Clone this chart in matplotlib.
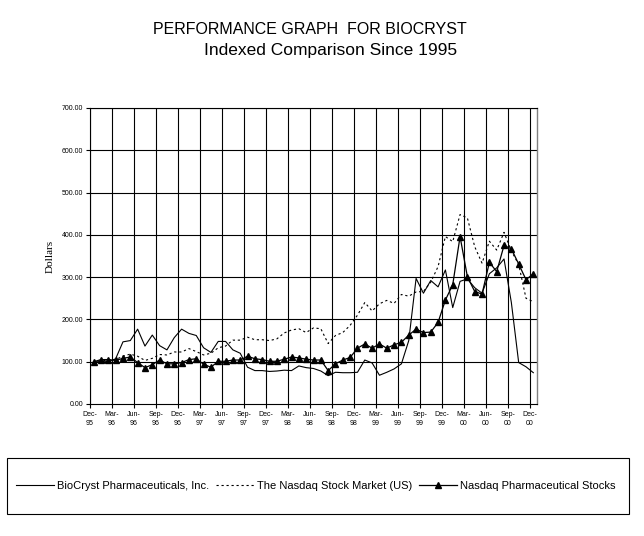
import matplotlib
matplotlib.use("Agg")
import matplotlib.pyplot as plt
from matplotlib.patches import Rectangle
import numpy as np

# DATA (indexed, Dec-95 = 100, monthly)
months = ["Dec", "Mar", "Jun", "Sep"]
years = ["95", "96", "96", "96", "96", "97", "97", "97", "97", "98", "98",
         "98", "98", "99", "99", "99", "99", "00", "00", "00", "00"]
tick_labels = [f"{months[k % 4]}-\n{years[k]}" for k in range(21)]

biocryst = [100, 100, 100, 107, 147, 150, 177, 137, 163, 138,
            128, 157, 177, 167, 162, 133, 122, 148, 148, 128,
            120, 87, 79, 79, 77, 78, 80, 79, 90, 86,
            84, 78, 67, 75, 74, 74, 75, 104, 97, 68,
            75, 83, 95, 150, 297, 262, 292, 277, 317, 228,
            290, 296, 275, 262, 308, 322, 343, 240, 98, 88, 74]

nasdaq = [100, 101, 105, 105, 113, 118, 113, 103, 108, 117,
          116, 123, 123, 131, 124, 116, 120, 133, 137, 151,
          151, 158, 152, 152, 150, 154, 168, 175, 178, 169,
          180, 178, 143, 162, 169, 186, 210, 240, 220, 237,
          245, 238, 259, 255, 265, 266, 288, 325, 396, 384,
          448, 440, 372, 333, 385, 364, 406, 362, 330, 250, 242]

pharma = [100, 105, 105, 103, 108, 111, 98, 86, 93, 104,
          95, 95, 98, 105, 107, 94, 87, 101, 101, 104,
          104, 113, 107, 105, 101, 101, 106, 111, 109, 106,
          104, 104, 79, 95, 104, 110, 132, 142, 132, 142,
          132, 140, 146, 163, 177, 169, 170, 193, 246, 282,
          396, 301, 266, 260, 335, 313, 375, 367, 331, 294, 308]

x = np.arange(len(pharma))

fig = plt.figure(figsize=(6.44, 5.36), dpi=100)
ax = fig.add_axes([90 / 644, 1 - 404 / 536, 447 / 644, 296 / 536])

# GRID
for k in range(21):
    ax.axvline(3 * k - 0.5, color="black", lw=0.8, zorder=1)
for v in range(100, 701, 100):
    ax.axhline(v, color="black", lw=0.8, zorder=1)

# SERIES
ax.plot(x, nasdaq, color="black", lw=0.8, linestyle=(0, (2, 2.5)),
        label="The Nasdaq Stock Market (US)", zorder=2)
ax.plot(x, biocryst, color="black", lw=0.8,
        label="BioCryst Pharmaceuticals, Inc.", zorder=3)
ax.plot(x, pharma, color="black", lw=0.9, marker="^", markersize=5,
        label="Nasdaq Pharmaceutical Stocks", zorder=4)

ax.set_xlim(-0.5, 60.5)
ax.set_ylim(0, 700)

ax.set_xticks([3 * k - 0.5 for k in range(21)])
ax.set_xticklabels(tick_labels, fontsize=5, family="Liberation Sans",
                   linespacing=1.5)
ax.set_yticks(range(0, 701, 100))
ax.set_yticklabels([f"{v}.00" for v in range(0, 701, 100)], fontsize=5,
                   family="Liberation Sans")
ax.tick_params(length=3, width=0.8, pad=2)

for side in ["left", "bottom", "top"]:
    ax.spines[side].set_color("black")
    ax.spines[side].set_linewidth(0.8)
ax.spines["right"].set_color("#808080")
ax.spines["right"].set_linewidth(1.0)

ax.set_ylabel("Dollars", fontsize=8, family="Liberation Serif", labelpad=5)

# TITLES
fig.text(310 / 644, 1 - 30 / 536, "PERFORMANCE GRAPH  FOR BIOCRYST",
         ha="center", va="center", fontsize=11.5, family="Liberation Sans")
fig.text(331 / 644, 1 - 50 / 536, "Indexed Comparison Since 1995",
         ha="center", va="center", fontsize=12.5, family="Liberation Sans")

# LEGEND
fig.patches.append(Rectangle((7 / 644, 1 - 514 / 536), 622 / 644, 56 / 536,
                             transform=fig.transFigure, fill=False,
                             edgecolor="black", lw=0.8))
h, l = ax.get_legend_handles_labels()
order = [1, 0, 2]
fig.legend([h[i] for i in order], [l[i] for i in order],
           loc="center", bbox_to_anchor=(316 / 644, 1 - 486 / 536),
           ncol=3, frameon=False, handlelength=3.4, handletextpad=0.3,
           columnspacing=0.6, prop={"family": "Liberation Sans", "size": 8})

fig.savefig("out.png", dpi=100)
